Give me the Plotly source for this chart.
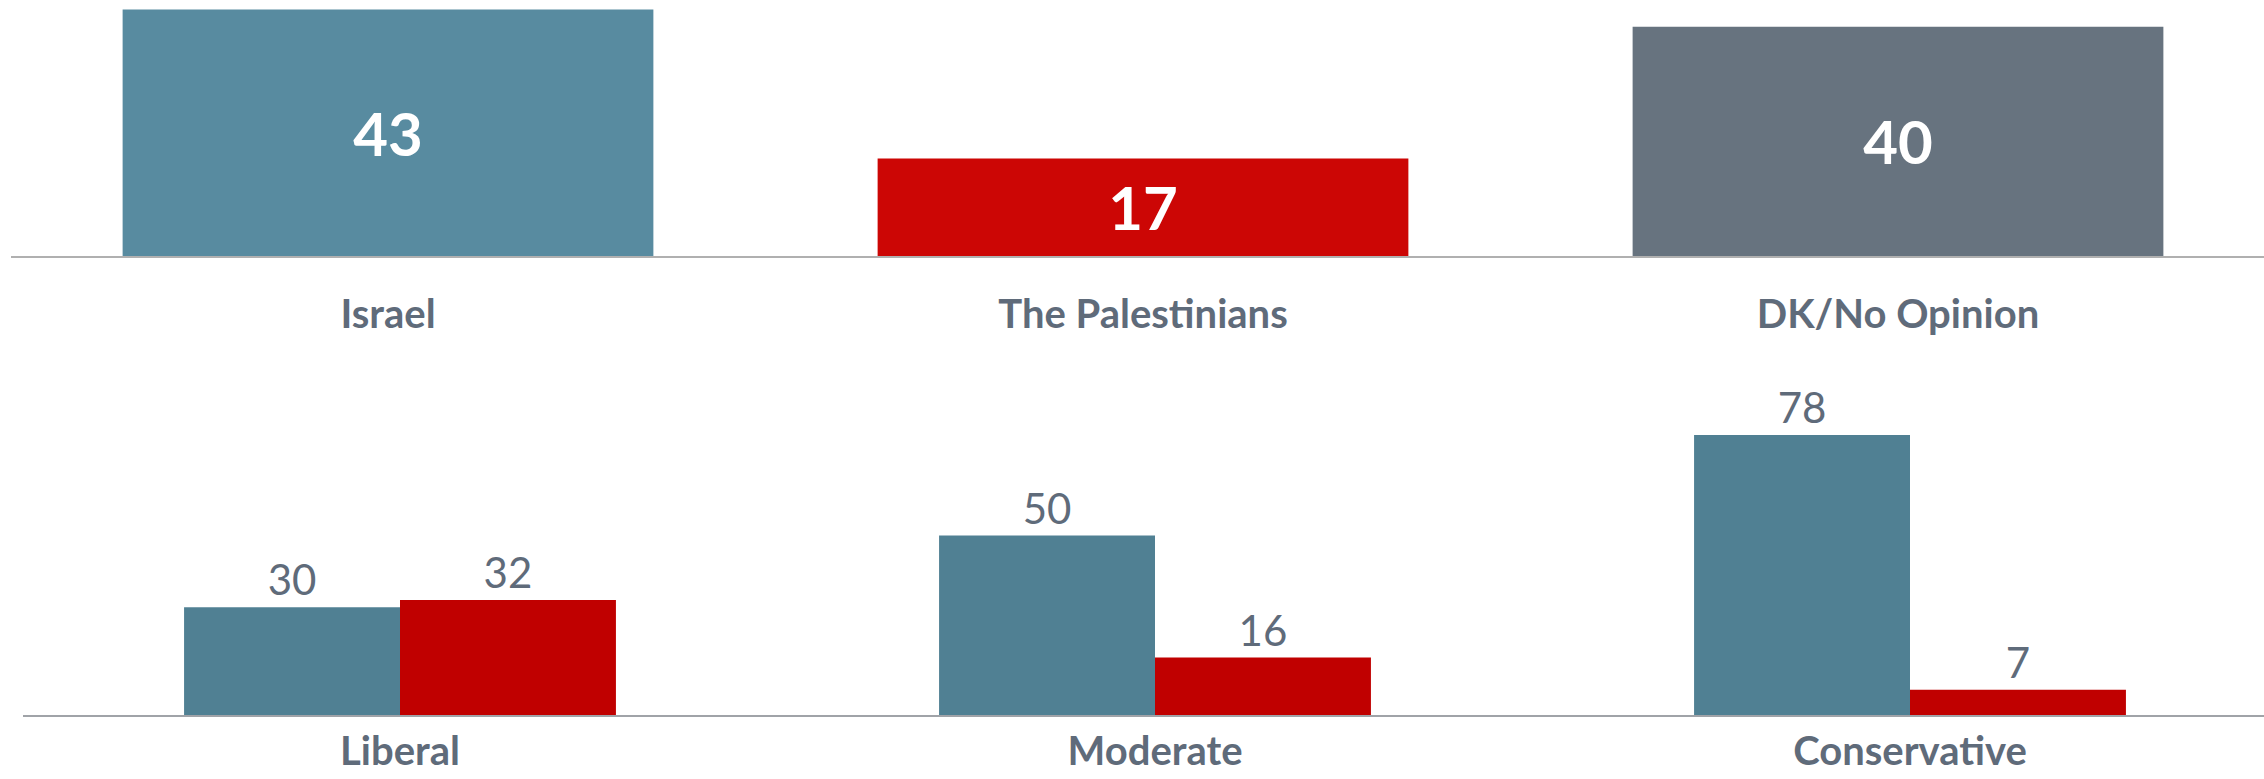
"""Two stacked bar panels: overall sympathy, then split by ideology."""

import plotly.graph_objects as go
from plotly.subplots import make_subplots

# ── Data ─────────────────────────────────────────────────────────────────────

top_cats = ["Israel", "The Palestinians", "DK/No Opinion"]
top_vals = [43, 17, 40]

ideology_cats = ["Liberal", "Moderate", "Conservative"]
israel_vals = [30, 50, 78]
palestinian_vals = [32, 16, 7]

# ── Styling ──────────────────────────────────────────────────────────────────

W, H = 2264, 779
FONT = "Lato, Open Sans, sans-serif"
TEXT = "#5f6b7a"
TOP_COLORS = ["#588ba0", "#cc0605", "#67737f"]
BLUE = "#508093"
RED = "#c00000"

fig = make_subplots(rows=2, cols=1, vertical_spacing=0.0)

fig.add_trace(go.Bar(
    x=top_cats, y=top_vals,
    marker=dict(color=TOP_COLORS, line_width=0),
    text=top_vals, textposition="inside", insidetextanchor="middle",
    textfont=dict(family=FONT, size=60, color="white", weight="bold"),
    showlegend=False, cliponaxis=False,
), row=1, col=1)

for vals, color in [(israel_vals, BLUE), (palestinian_vals, RED)]:
    fig.add_trace(go.Bar(
        x=ideology_cats, y=vals,
        marker=dict(color=color, line_width=0),
        text=vals, textposition="outside",
        textfont=dict(family=FONT, size=42, color=TEXT),
        showlegend=False, cliponaxis=False,
    ), row=2, col=1)

# pixel-based geometry
top_base, top_scale = 256, 5.73
bot_base, bot_scale = 715, 3.59
cat_px = 755

top_left, bot_left = 10.5, 22.5
top_dom_lo = 1 - top_base / H
bot_dom_lo = 1 - bot_base / H
bot_dom_hi = 0.6

axis_common = dict(
    showgrid=False, zeroline=False, showline=True, automargin=False,
    ticks="outside", tickcolor="rgba(0,0,0,0)",
    tickfont=dict(family=FONT, size=40, color=TEXT, weight="bold"),
    fixedrange=True,
)

fig.update_layout(
    width=W, height=H,
    margin=dict(l=0, r=0, t=0, b=0),
    paper_bgcolor="white", plot_bgcolor="white",
    barmode="group", bargap=0.297, bargroupgap=0,
    font=dict(family=FONT, color=TEXT),
    xaxis=dict(
        **axis_common, domain=[top_left / W, 1],
        range=[-0.5, -0.5 + (W - top_left) / cat_px],
        linecolor="#b0b0b0", linewidth=2, ticklen=22,
    ),
    yaxis=dict(
        domain=[top_dom_lo, 1], range=[0, top_base / top_scale],
        visible=False, fixedrange=True, automargin=False,
    ),
    xaxis2=dict(
        **axis_common, domain=[bot_left / W, 1],
        range=[-0.5, -0.5 + (W - bot_left) / cat_px],
        linecolor="#a0a3a8", linewidth=2, ticklen=0,
    ),
    yaxis2=dict(
        domain=[bot_dom_lo, bot_dom_hi],
        range=[0, (bot_base - (1 - bot_dom_hi) * H) / bot_scale],
        visible=False, fixedrange=True, automargin=False,
    ),
)

# bar widths in category units: wide singles on top, paired groups below
fig.data[0].update(width=0.703)
fig.data[1].update(width=0.286, offset=-0.286)
fig.data[2].update(width=0.286, offset=0.0)

fig.write_html("out.html", config=dict(displayModeBar=False),
               post_script="document.body.style.margin='0';")
